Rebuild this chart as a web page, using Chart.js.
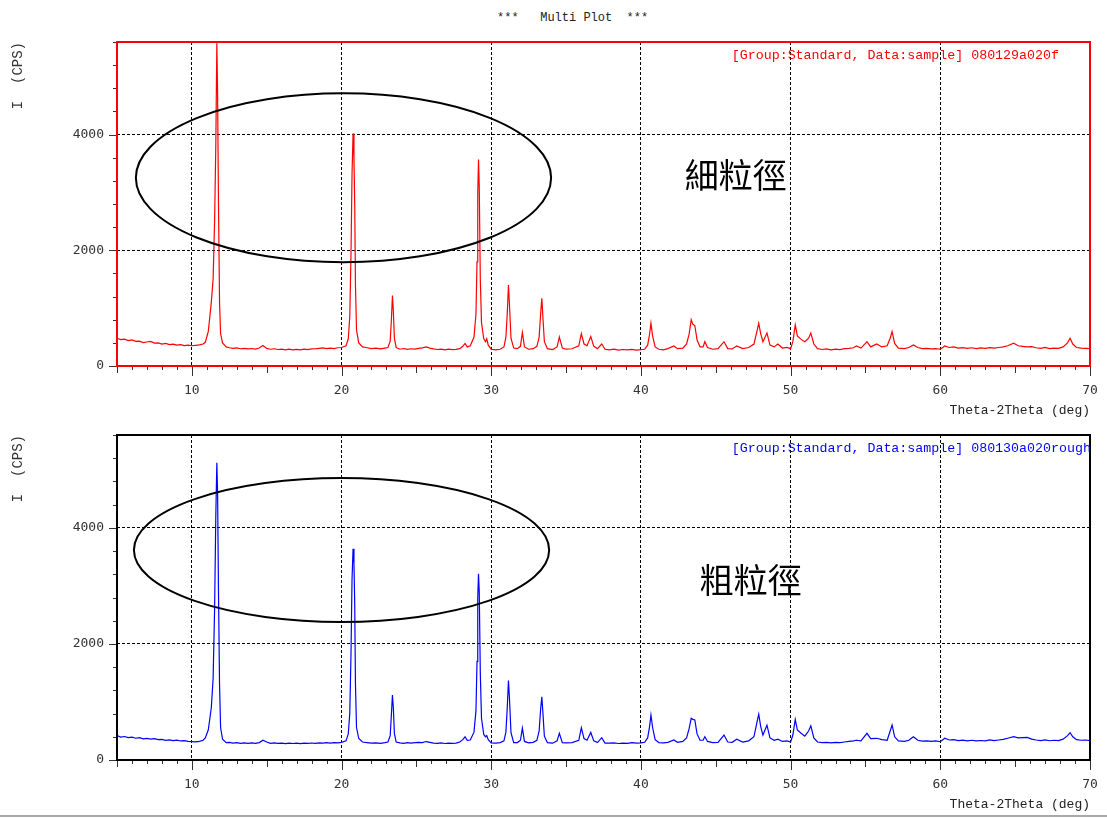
<!DOCTYPE html>
<html>
<head>
<meta charset="utf-8">
<title>Multi Plot</title>
<script src="https://cdn.jsdelivr.net/npm/chart.js@4.4.1/dist/chart.umd.min.js"></script>
<style>
    html, body { margin: 0; padding: 0; background: #fff; }
    #page { position: relative; width: 1107px; height: 819px; overflow: hidden; }
    #heading { position: absolute; left: 497px; top: 11px; font: 12px "Liberation Mono", monospace; line-height: 14px; white-space: pre; color: #222; }
    canvas { position: absolute; left: 0; }
    #fine { top: 0; }
    #rough { top: 420px; }
    #edge { position: absolute; left: 0; top: 815px; width: 1107px; height: 2px; background: #a8a8a8; }
</style>
</head>
<body>
<div id="page">
    <div id="heading">***   Multi Plot  ***</div>
    <canvas id="fine" width="1107" height="420"></canvas>
    <canvas id="rough" width="1107" height="394"></canvas>
    <div id="edge"></div>
</div>
<script>
// 2theta (deg), shared by both scans; one line per stretch of the pattern
const twoTheta = [
    5, 5.25, 5.5, 5.75, 6, 6.25, 6.5, 6.75, 7, 7.25, 7.5, 7.75, 8, 8.25, 8.5, 8.75, 9, 9.25, 9.5, 9.75, 10, 10.25, 10.5,
    10.75, 10.9, 11.1, 11.3, 11.42, 11.52, 11.6, 11.67, 11.72, 11.78, 11.85, 11.92, 12.05, 12.3,
    12.5, 12.75, 13, 13.25, 13.5, 13.75, 14, 14.25, 14.5, 14.75, 15, 15.25, 15.5, 15.75, 16, 16.25, 16.5, 16.75, 17, 17.25, 17.5, 17.75, 18, 18.25, 18.5, 18.75, 19, 19.25, 19.5, 19.75,
    20, 20.3, 20.45, 20.55, 20.63, 20.7, 20.77, 20.83, 20.88, 20.93, 21, 21.15, 21.4,
    21.7, 22, 22.3, 22.6, 22.9,
    23.1, 23.25, 23.33, 23.4, 23.46, 23.53, 23.65,
    23.9, 24.15, 24.4, 24.65, 24.9, 25.15, 25.4, 25.65, 25.9, 26.15, 26.4, 26.65, 26.9, 27.15, 27.4, 27.65, 27.9,
    28.1, 28.25, 28.4,
    28.6, 28.85, 28.98, 29.05, 29.1, 29.15, 29.2, 29.27, 29.35, 29.5, 29.62, 29.7, 29.8, 30,
    30.3, 30.6,
    30.85, 30.98, 31.07, 31.15, 31.22, 31.32, 31.5,
    31.75,
    31.95, 32.08, 32.22,
    32.5, 32.8,
    33.05, 33.2, 33.3, 33.38, 33.45, 33.55, 33.75,
    34.1,
    34.4, 34.55, 34.75,
    35, 35.4,
    35.85, 36.02, 36.2,
    36.4,
    36.65, 36.85,
    37.1,
    37.38, 37.6,
    37.9, 38.2, 38.5, 38.8, 39.1, 39.4, 39.7, 40, 40.25,
    40.45, 40.58, 40.67, 40.78, 40.95,
    41.2, 41.5, 41.8,
    42.2, 42.45,
    42.8,
    43.05, 43.22, 43.36, 43.47, 43.6, 43.75, 43.95,
    44.15, 44.27, 44.45,
    44.8, 45.15,
    45.55, 45.8,
    46.1,
    46.4,
    46.8, 47.2,
    47.55, 47.75, 47.87, 48, 48.15,
    48.42, 48.62,
    48.9, 49.15, 49.45, 49.75, 50,
    50.15, 50.31, 50.45,
    50.7,
    50.95,
    51.2, 51.35, 51.55,
    51.8, 52.1, 52.4, 52.7, 53, 53.3, 53.6, 53.9, 54.2,
    54.4, 54.7,
    55.1, 55.35,
    55.75,
    56.1, 56.45,
    56.65, 56.78, 56.95,
    57.2, 57.6, 57.9,
    58.2,
    58.5, 58.8, 59.1, 59.4, 59.7, 60,
    60.3,
    60.6, 60.9, 61.2, 61.5, 61.8, 62.1, 62.4, 62.7, 63, 63.3, 63.6, 63.9, 64.2, 64.5,
    64.9,
    65.2, 65.5, 65.8, 66.1,
    66.4, 66.7, 67, 67.3, 67.6, 67.9, 68.2,
    68.5, 68.67, 68.85,
    69.1, 69.4, 69.7, 70
];

// I (CPS), sample 080129a020f (fine grain)
const fineCps = [
    480, 455, 465, 440, 450, 425, 430, 405, 415, 425, 395, 400, 380, 390, 370, 378, 360, 368, 352, 362, 350, 358, 365,
    380, 410, 600, 1100, 1500, 2500, 3800, 5580, 4700, 2800, 1100, 560, 400, 330,
    315, 305, 312, 298, 305, 295, 302, 292, 310, 355, 305, 290, 298, 285, 292, 280, 290, 278, 286, 280, 290, 282, 295, 298, 305, 312, 300, 310, 302, 315,
    320, 350, 470, 850, 1900, 3300, 4020, 3600, 2800, 1400, 620, 400, 330,
    315, 300, 308, 295, 310,
    320, 430, 800, 1220, 950, 480, 320,
    290, 302, 288, 298, 292, 305, 312, 330, 310, 295, 285, 292, 280, 290, 282, 288, 300,
    340, 390, 330,
    350, 500, 900, 1800, 3000, 3570, 3100, 1500, 750, 470, 420, 470, 360, 290,
    280, 290,
    330, 500, 900, 1400, 1050, 480, 310,
    300,
    340, 580, 330,
    290, 300,
    340, 500, 900, 1170, 850, 420, 300,
    285,
    330, 500, 310,
    290, 298,
    350, 560, 380,
    350,
    510, 340,
    300,
    380, 290,
    280, 290, 275, 285, 278, 288, 276, 282, 290,
    360, 550, 740, 520, 330,
    290, 280, 300,
    345, 300,
    310,
    380, 550, 800, 720, 700, 450, 330,
    330, 420, 320,
    290, 300,
    420, 300,
    295,
    346,
    300, 320,
    380, 600, 740, 560, 420,
    570, 360,
    330, 380, 310, 320, 300,
    420, 710, 520,
    460,
    420,
    480, 570, 380,
    300, 285, 295, 280, 290, 282, 300, 305, 315,
    346, 310,
    421, 330,
    380,
    330, 350,
    480, 594, 390,
    310, 300, 320,
    364,
    320, 300, 305, 295, 300, 290,
    346,
    320, 330, 310, 318, 305, 315, 300, 312, 305, 318, 308, 320, 330, 350,
    393,
    350, 340, 330, 335,
    315, 305, 320, 300, 310, 305, 330,
    400, 479, 380,
    320, 310, 305, 300
];

// I (CPS), sample 080130a020rough (coarse grain)
const roughCps = [
    420, 395, 405, 385, 395, 375, 385, 365, 372, 360, 368, 350, 355, 340, 348, 335, 342, 328, 335, 320, 318, 312, 322,
    340, 380, 520, 900, 1400, 2600, 4200, 5120, 4600, 2900, 1300, 560, 360, 300,
    305, 292, 298, 288, 295, 286, 294, 288, 300, 340, 310, 288, 294, 285, 292, 282, 290, 284, 291, 283, 290, 285, 293, 287, 295, 290, 298, 292, 300, 296,
    305, 330, 450, 800, 1800, 3100, 3640, 3400, 2700, 1300, 560, 370, 310,
    300, 290, 296, 288, 300,
    310, 420, 780, 1120, 900, 460, 310,
    295, 288, 300, 292, 298, 305, 300, 318, 305, 292, 286, 294, 284, 290, 286, 292, 310,
    350, 400, 340,
    345, 480, 850, 1700, 2800, 3210, 2900, 1500, 720, 440, 400, 420, 350, 295,
    290, 300,
    330, 480, 900, 1370, 1050, 470, 300,
    300,
    340, 550, 320,
    295, 305,
    340, 500, 880, 1090, 820, 410, 300,
    290,
    330, 460, 300,
    295, 300,
    340, 555, 370,
    340,
    475, 330,
    300,
    385, 290,
    290, 296, 284, 292, 286, 298, 290, 295, 305,
    380, 580, 775, 560, 350,
    300, 295, 305,
    345, 305,
    320,
    380, 540, 718, 700, 690, 450, 340,
    340, 400, 320,
    300, 305,
    430, 310,
    305,
    357,
    310, 330,
    400, 650, 790, 580, 430,
    600, 380,
    340, 360, 320, 330, 310,
    430, 700, 520,
    460,
    410,
    500, 590, 380,
    310, 300, 305, 295, 305, 300, 310, 320, 330,
    340, 330,
    460, 370,
    374,
    350, 340,
    500, 603, 400,
    330, 320, 340,
    402,
    340, 325, 330, 320, 330, 315,
    374,
    345, 350, 335, 342, 330, 340, 328, 336, 330, 345, 335, 345, 355, 375,
    402,
    380, 385, 390, 360,
    345, 335, 345, 332, 340, 335, 360,
    420, 471, 400,
    350, 340, 345, 335
];

const xLabels = [10, 20, 30, 40, 50, 60, 70];
const yLabels = [0, 2000, 4000];
const fineTag = '[Group:Standard, Data:sample] 080129a020f';
const roughTag = '[Group:Standard, Data:sample] 080130a020rough';

const tickFont = {family: '"DejaVu Sans Mono", monospace', size: 13};
const monoFont = {family: '"Liberation Mono", monospace', size: 13};

// frame, tick marks of three lengths, the ring and the two labels
const frameAndMarks = {
    id: 'frameAndMarks',
    afterDatasetsDraw(chart, args, o) {
        const ctx = chart.ctx;
        const a = chart.chartArea;
        const x = chart.scales.x;
        const y = chart.scales.y;
        ctx.save();

        ctx.strokeStyle = '#333';
        ctx.lineWidth = 1;
        ctx.beginPath();
        x.ticks.forEach(t => {
            const len = t.value % 10 === 0 ? 10 : (t.value % 5 === 0 ? 7 : 4);
            const px = Math.round(x.getPixelForValue(t.value)) + 0.5;
            ctx.moveTo(px, a.bottom);
            ctx.lineTo(px, a.bottom + len);
        });
        y.ticks.forEach(t => {
            const len = t.value % 2000 === 0 ? 8 : (t.value % 1000 === 0 ? 6 : 4);
            const py = Math.round(y.getPixelForValue(t.value)) + 0.5;
            ctx.moveTo(a.left - len, py);
            ctx.lineTo(a.left, py);
        });
        ctx.stroke();

        ctx.strokeStyle = o.frame;
        ctx.lineWidth = 2;
        ctx.strokeRect(a.left, a.top, a.right - a.left, a.bottom - a.top);

        const r = o.ring;
        const cx = x.getPixelForValue(r.x);
        const cy = y.getPixelForValue(r.y);
        ctx.beginPath();
        ctx.ellipse(cx, cy, x.getPixelForValue(r.x + r.rx) - cx, cy - y.getPixelForValue(r.y + r.ry), 0, 0, Math.PI * 2);
        ctx.strokeStyle = '#000';
        ctx.lineWidth = 2;
        ctx.stroke();

        ctx.font = '13.3px "Liberation Mono", monospace';
        ctx.fillStyle = o.tagColour;
        ctx.textAlign = 'left';
        ctx.textBaseline = 'middle';
        ctx.fillText(o.tag, x.getPixelForValue(o.tagAt[0]), y.getPixelForValue(o.tagAt[1]));

        ctx.font = '34px "Noto Sans CJK TC", "Noto Sans CJK SC", sans-serif';
        ctx.fillStyle = '#000';
        ctx.textAlign = 'center';
        ctx.fillText(o.note, x.getPixelForValue(o.noteAt[0]), y.getPixelForValue(o.noteAt[1]));
        ctx.restore();
    }
};

function scanChart(tag, cps, colour, padTop, marks) {
    return new Chart(document.getElementById(tag), {
        type: 'line',
        data: {
            datasets: [{
                data: twoTheta.map((t, i) => ({x: t, y: cps[i]})),
                borderColor: colour,
                borderWidth: 1.2,
                pointRadius: 0,
                tension: 0
            }]
        },
        options: {
            responsive: false,
            animation: false,
            events: [],
            layout: {padding: {top: padTop, right: 17, left: 0, bottom: 0}},
            plugins: {
                legend: {display: false},
                tooltip: {enabled: false},
                frameAndMarks: marks
            },
            scales: {
                x: {
                    type: 'linear',
                    min: 5,
                    max: 70,
                    afterFit: s => { s.height = 54; },
                    ticks: {
                        stepSize: 1,
                        autoSkip: false,
                        maxRotation: 0,
                        padding: 7,
                        font: tickFont,
                        color: '#333',
                        callback: v => xLabels.includes(v) ? String(v) : ''
                    },
                    grid: {
                        color: c => (c.tick && c.tick.value % 10 === 0) ? '#000' : 'rgba(0,0,0,0)',
                        tickLength: 10,
                        tickColor: 'rgba(0,0,0,0)'
                    },
                    border: {display: false, dash: [3, 2]},
                    title: {
                        display: true,
                        text: 'Theta-2Theta (deg)',
                        align: 'end',
                        font: monoFont,
                        color: '#222',
                        padding: {top: 0, bottom: 2}
                    }
                },
                y: {
                    min: 0,
                    max: 5600,
                    afterFit: s => { s.width = 117; },
                    ticks: {
                        stepSize: 200,
                        padding: 5,
                        font: tickFont,
                        color: '#333',
                        callback: v => yLabels.includes(v) ? String(v) : ''
                    },
                    grid: {
                        color: c => (c.tick && c.tick.value % 2000 === 0) ? '#000' : 'rgba(0,0,0,0)',
                        tickLength: 8,
                        tickColor: 'rgba(0,0,0,0)'
                    },
                    border: {display: false, dash: [3, 2]},
                    title: {
                        display: true,
                        text: 'I  (CPS)',
                        align: 'end',
                        font: {family: '"Liberation Mono", monospace', size: 14},
                        color: '#333',
                        padding: {top: 10, bottom: 0}
                    }
                }
            }
        },
        plugins: [frameAndMarks]
    });
}

scanChart('fine', fineCps, '#ff0000', 42, {
    frame: '#ff0000',
    tag: fineTag,
    tagColour: '#ff0000',
    tagAt: [46.07, 5375],
    note: '細粒徑',
    noteAt: [46.33, 3301],
    ring: {x: 20.13, y: 3253, rx: 13.87, ry: 1460}
});

scanChart('rough', roughCps, '#0000ff', 15, {
    frame: '#000',
    tag: roughTag,
    tagColour: '#0000ff',
    tagAt: [46.07, 5376],
    note: '粗粒徑',
    noteAt: [47.33, 3101],
    ring: {x: 20.0, y: 3618, rx: 13.87, ry: 1240}
});
</script>
</body>
</html>
